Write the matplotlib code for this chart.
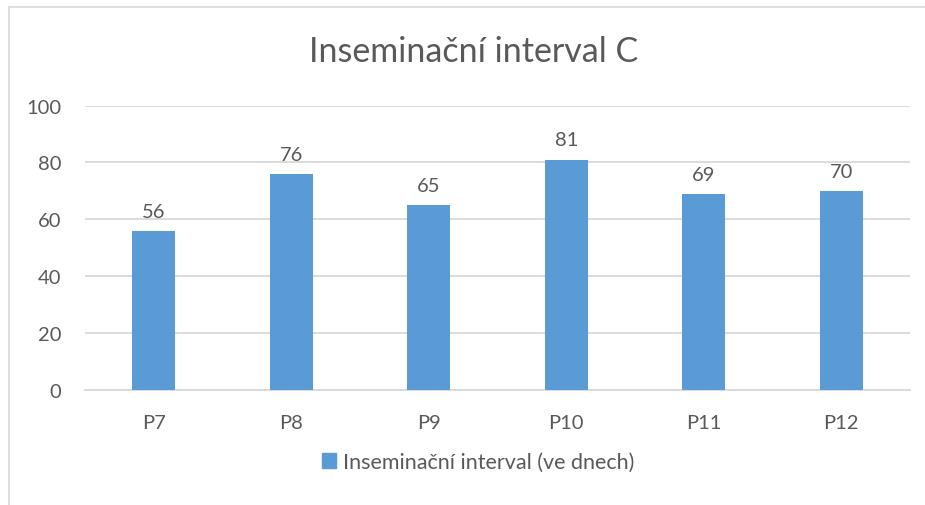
import matplotlib
matplotlib.use("Agg")
import matplotlib.pyplot as plt
from matplotlib.lines import Line2D
from matplotlib.patches import Patch

# data
categories = ["P7", "P8", "P9", "P10", "P11", "P12"]
values = [56, 76, 65, 81, 69, 70]
series_name = "Inseminační interval (ve dnech)"
title = "Inseminační interval C"

plt.rcParams["font.family"] = ["Lato", "DejaVu Sans"]
W, H = 925, 506
fig = plt.figure(figsize=(W / 100, H / 100), dpi=100)
txt = "#595959"
grid = "#d9d9d9"
bar_color = "#5b9bd5"

ax = fig.add_axes([85 / W, (H - 391) / H, (910 - 85) / W, (391 - 106.5) / H])
x = range(len(categories))
bars = ax.bar(x, values, width=0.31, color=bar_color, zorder=3)
ax.set_xlim(-0.5, len(categories) - 0.5)
ax.set_ylim(0, 100)
ax.set_yticks(range(0, 101, 20))
ax.set_xticks(list(x))
ax.set_xticklabels(categories)
ax.yaxis.grid(True, color=grid, linewidth=1.3, zorder=0)
for s in ["top", "right", "left"]:
    ax.spines[s].set_visible(False)
ax.spines["bottom"].set_color(grid)
ax.spines["bottom"].set_linewidth(1.3)
ax.tick_params(axis="both", length=0, colors=txt, labelsize=14.5)
ax.tick_params(axis="x", pad=17)
ax.tick_params(axis="y", pad=17)

for b, v in zip(bars, values):
    ax.annotate(str(v), (b.get_x() + b.get_width() / 2, v), xytext=(0, 8),
                textcoords="offset points", ha="center", va="bottom",
                color=txt, fontsize=14.5)

fig.text(474 / W, 1 - 52 / H, title, ha="center", va="center", fontsize=24.5, color=txt)

fig.legend(handles=[Patch(color=bar_color, label=series_name)],
           loc="center", bbox_to_anchor=(478 / W, 1 - 463 / H), frameon=False,
           fontsize=15.5, labelcolor=txt, handlelength=0.65, handleheight=0.65,
           handletextpad=0.3)

# chart border (left and top)
fig.add_artist(Line2D([8.5 / W, 8.5 / W], [0, 1 - 7.5 / H], transform=fig.transFigure,
                      color=grid, linewidth=1.2))
fig.add_artist(Line2D([8.5 / W, 1], [1 - 7.5 / H, 1 - 7.5 / H], transform=fig.transFigure,
                      color=grid, linewidth=1.2))

fig.savefig("out.png", dpi=100)
